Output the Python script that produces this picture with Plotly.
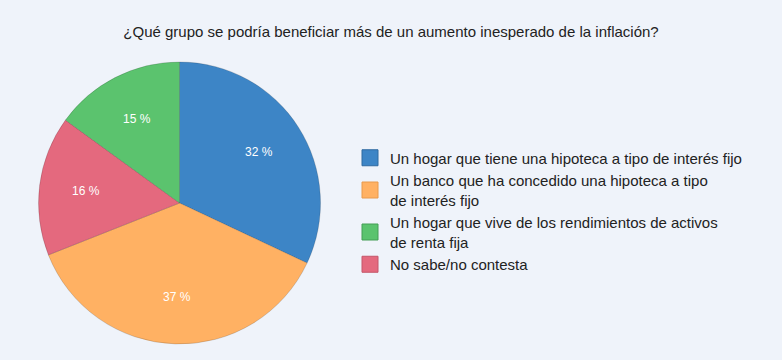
import math
import plotly.graph_objects as go

title = "¿Qué grupo se podría beneficiar más de un aumento inesperado de la inflación?"

# Pie slices in drawing order (clockwise from 12 o'clock)
pie_labels = [
    "Un hogar que tiene una hipoteca a tipo de interés fijo",
    "Un banco que ha concedido una hipoteca a tipo de interés fijo",
    "No sabe/no contesta",
    "Un hogar que vive de los rendimientos de activos de renta fija",
]
pie_values = [32, 37, 16, 15]
pie_colors = ["#3d85c6", "#ffb163", "#e4697e", "#5bc36e"]

# Legend order
legend_labels = [
    "Un hogar que tiene una hipoteca a tipo de interés fijo",
    "Un banco que ha concedido una hipoteca a tipo<br>de interés fijo",
    "Un hogar que vive de los rendimientos de activos<br>de renta fija",
    "No sabe/no contesta",
]
legend_colors = ["#3d85c6", "#ffb163", "#5bc36e", "#e4697e"]
legend_borders = ["#2f6aa0", "#e89a4c", "#449e55", "#c4566a"]

W, H = 782, 360
cx, cy, r = 179.5, 203, 141

fig = go.Figure()
fig.add_trace(go.Pie(
    labels=pie_labels,
    values=pie_values,
    sort=False,
    direction="clockwise",
    rotation=0,
    marker=dict(colors=pie_colors, line=dict(color="rgba(0,0,0,0.25)", width=0.6)),
    textinfo="none",
    showlegend=False,
    domain=dict(x=[(cx - r) / W, (cx + r) / W], y=[(H - cy - r) / H, (H - cy + r) / H]),
    hoverinfo="label+percent",
))

# Percentage labels at each slice's mid-angle, derived from the values
total = sum(pie_values)
cum = 0
for v in pie_values:
    mid = (cum + v / 2) / total * 2 * math.pi
    cum += v
    px = cx + 0.67 * r * math.sin(mid)
    py = cy - 0.67 * r * math.cos(mid)
    fig.add_annotation(
        x=px / W, y=1 - py / H, xref="paper", yref="paper",
        xanchor="center", yanchor="middle",
        text=f"{v} %", showarrow=False,
        font=dict(color="white", size=12, family="Liberation Sans, Arial, sans-serif"),
    )

for lab, col, bc in zip(legend_labels, legend_colors, legend_borders):
    fig.add_trace(go.Scatter(
        x=[None], y=[None], mode="markers", name=lab,
        marker=dict(symbol="square", size=18, color=col, line=dict(color=bc, width=1)),
    ))

fig.update_layout(
    width=W, height=H,
    margin=dict(l=0, r=0, t=0, b=0),
    paper_bgcolor="#eff3fa",
    plot_bgcolor="#eff3fa",
    font=dict(family="Liberation Sans, Arial, sans-serif", size=15, color="#222222"),
    title=dict(text=title, x=0.5, xanchor="center", y=1 - 32 / H, yanchor="middle",
               font=dict(size=15, color="#222222")),
    xaxis=dict(visible=False),
    yaxis=dict(visible=False),
    legend=dict(x=350 / W, xanchor="left", y=1 - 211 / H, yanchor="middle",
                bgcolor="rgba(0,0,0,0)", tracegroupgap=0, itemsizing="trace",
                font=dict(size=15, color="#222222")),
)

fig.write_html("out.html", config={"displayModeBar": False},
               post_script="document.body.style.margin='0';document.body.style.overflow='hidden';")
